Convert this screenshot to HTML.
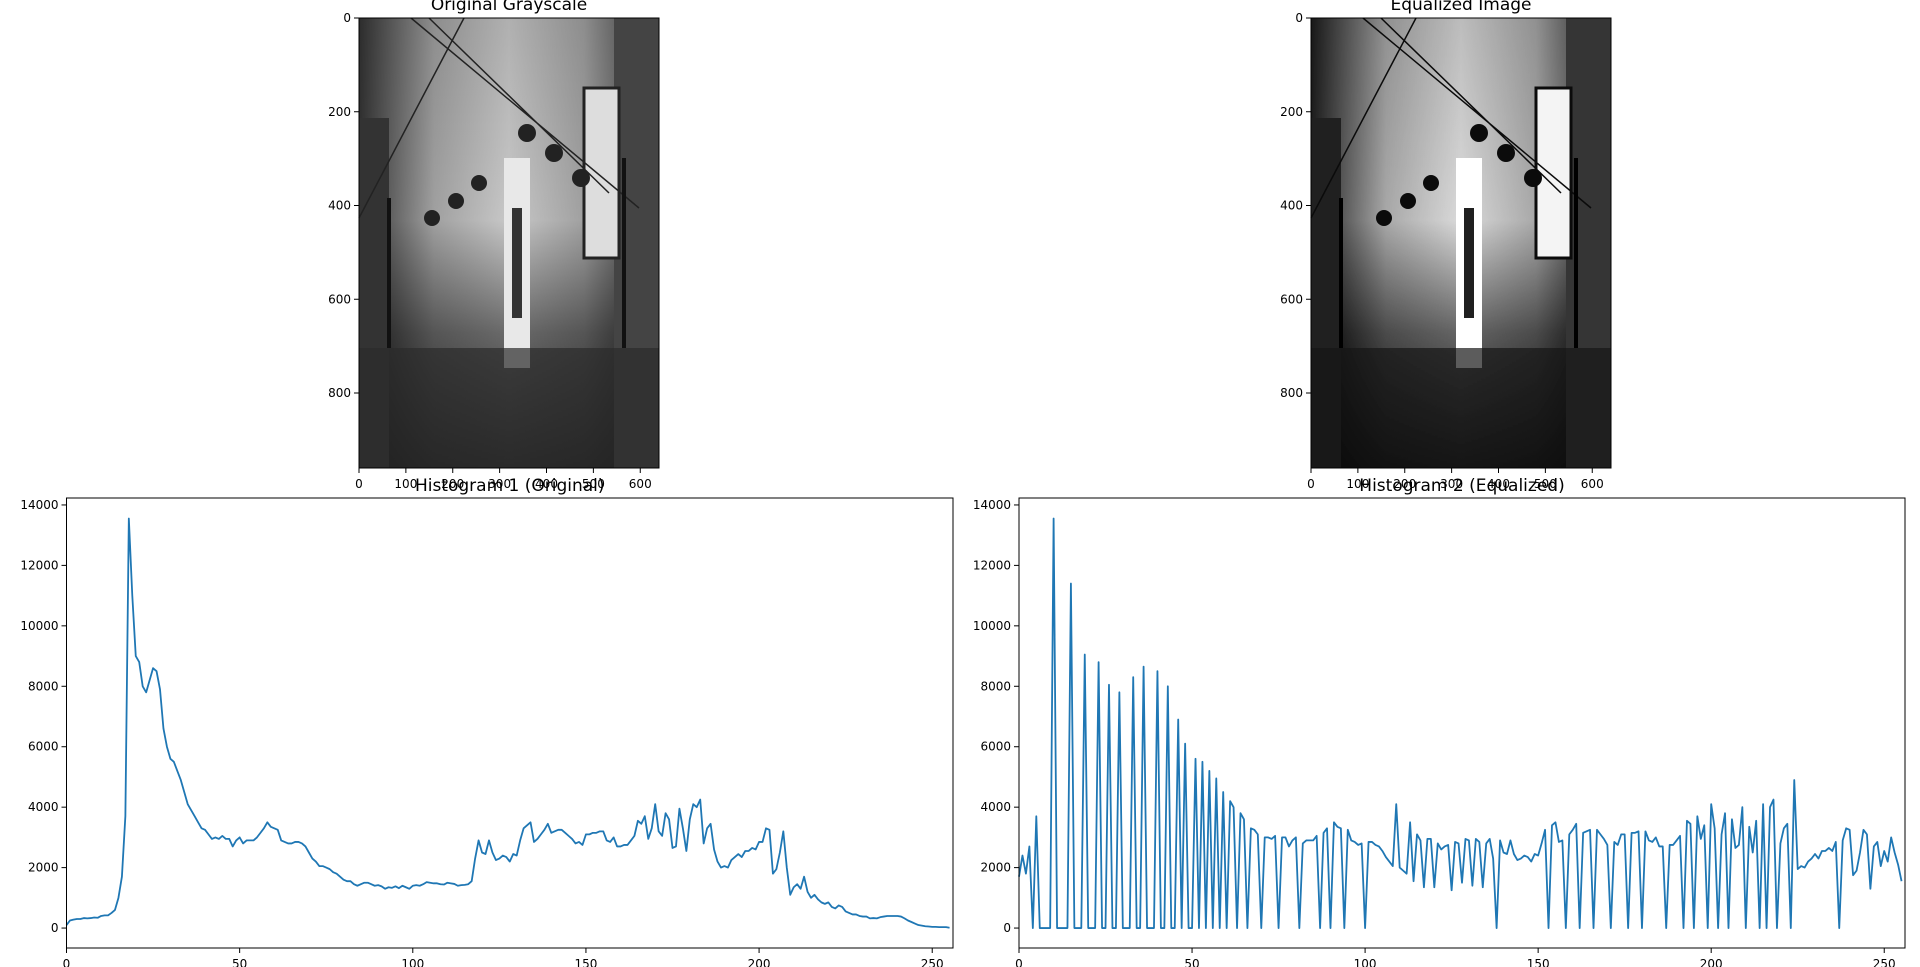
<!DOCTYPE html>
<html><head><meta charset="utf-8"><style>
html,body{margin:0;padding:0;background:#fff;}
svg{display:block;font-family:"DejaVu Sans","Liberation Sans",sans-serif;}
</style></head><body>
<svg id="fig" width="1920" height="967" viewBox="0 0 1920 967" xmlns="http://www.w3.org/2000/svg">
<defs>
<linearGradient id="sky" x1="0" y1="0" x2="0" y2="1">
<stop offset="0" stop-color="#b0b0b0"/><stop offset="0.45" stop-color="#c8c8c8"/><stop offset="0.7" stop-color="#6a6a6a"/><stop offset="1" stop-color="#2a2a2a"/>
</linearGradient>
<linearGradient id="side" x1="0" y1="0" x2="1" y2="0">
<stop offset="0" stop-color="#000" stop-opacity="0.75"/><stop offset="0.25" stop-color="#000" stop-opacity="0.2"/><stop offset="0.5" stop-color="#000" stop-opacity="0"/><stop offset="0.75" stop-color="#000" stop-opacity="0.2"/><stop offset="1" stop-color="#000" stop-opacity="0.75"/>
</linearGradient>
<g id="photo">
<rect x="0" y="0" width="300" height="450" fill="url(#sky)"/>
<rect x="0" y="0" width="300" height="450" fill="url(#side)"/>
<rect x="0" y="100" width="30" height="350" fill="#333"/>
<rect x="255" y="0" width="45" height="450" fill="#444"/>
<rect x="225" y="70" width="35" height="170" fill="#ddd" stroke="#222" stroke-width="3"/>
<rect x="145" y="140" width="26" height="210" fill="#e8e8e8"/>
<rect x="153" y="190" width="10" height="110" fill="#333"/>
<rect x="0" y="330" width="300" height="120" fill="#2b2b2b" opacity="0.7"/>
<path d="M52 0 L280 190 M70 0 L250 175 M0 200 L105 0" stroke="#222" stroke-width="1.5" fill="none"/>
<path d="M30 180 L30 330 M265 140 L265 330" stroke="#111" stroke-width="4"/>
<circle cx="73" cy="200" r="8" fill="#222"/><circle cx="97" cy="183" r="8" fill="#222"/><circle cx="120" cy="165" r="8" fill="#222"/>
<circle cx="168" cy="115" r="9" fill="#222"/><circle cx="195" cy="135" r="9" fill="#222"/><circle cx="222" cy="160" r="9" fill="#222"/>
</g>
</defs>
<text x="509" y="10" text-anchor="middle" font-size="17">Original Grayscale</text>
<g><use href="#photo" x="359" y="18"/></g>
<rect x="359" y="18" width="300" height="450" fill="none" stroke="#000" stroke-width="1"/>
<text x="1461" y="10" text-anchor="middle" font-size="17">Equalized Image</text>
<g><use href="#photo" x="1311" y="18" style="filter:contrast(1.25)"/></g>
<rect x="1311" y="18" width="300" height="450" fill="none" stroke="#000" stroke-width="1"/>
<g id="imgaxes"></g>
<g id="h1"></g>
<g id="h2"></g>
</svg>
<script>
const imgXTicks=[0,100,200,300,400,500,600];
const imgYTicks=[0,200,400,600,800];
const imgW=640, imgH=960;
const histXTicks=[0,50,100,150,200,250];
const histYTicks=[0,2000,4000,6000,8000,10000,12000,14000];
const hist1=[100,250,280,300,300,330,320,330,350,340,400,420,420,500,600,1000,1700,3700,13550,11000,9000,8800,8000,7800,8200,8600,8500,7900,6600,6000,5600,5500,5200,4900,4500,4100,3900,3700,3500,3300,3250,3100,2950,3000,2950,3050,2950,2950,2700,2900,3000,2800,2900,2900,2900,3000,3150,3300,3500,3350,3300,3250,2900,2850,2800,2800,2850,2850,2800,2700,2500,2300,2200,2050,2050,2000,1950,1850,1800,1700,1600,1550,1550,1450,1400,1450,1500,1500,1450,1400,1420,1380,1300,1350,1330,1380,1320,1400,1350,1300,1400,1420,1400,1450,1520,1500,1480,1480,1450,1440,1500,1480,1460,1400,1420,1430,1450,1550,2300,2900,2500,2450,2900,2500,2250,2300,2400,2350,2200,2450,2400,2900,3300,3400,3500,2850,2950,3100,3250,3450,3150,3200,3250,3250,3150,3050,2950,2800,2850,2750,3100,3100,3150,3150,3200,3200,2900,2850,3000,2700,2700,2750,2750,2900,3050,3550,3450,3700,2950,3300,4100,3200,3050,3800,3600,2650,2700,3950,3300,2550,3600,4100,4000,4250,2800,3300,3450,2600,2200,2000,2050,2000,2250,2350,2450,2350,2550,2550,2650,2600,2850,2850,3300,3250,1800,1950,2500,3200,2000,1100,1350,1450,1300,1700,1200,1000,1100,950,850,800,850,700,650,750,700,550,500,450,450,400,380,380,320,330,320,360,380,400,400,400,400,380,320,250,200,150,100,80,60,50,40,40,30,30,30,10];
const hist2=[1700,2400,1800,2700,0,3700,0,0,0,0,13550,0,0,0,0,11400,0,0,0,9050,0,0,0,8800,0,0,8050,0,0,7800,0,0,0,8300,0,0,8650,0,0,0,8500,0,0,8000,0,0,6900,0,6100,0,0,5600,0,5500,0,5200,0,4950,0,4500,0,4200,4000,0,3800,3600,0,3300,3250,3100,0,3000,3000,2950,3050,0,3000,3000,2700,2900,3000,0,2800,2900,2900,2900,3050,0,3150,3300,0,3500,3350,3300,0,3250,2900,2850,2750,2800,0,2850,2850,2750,2700,2550,2350,2200,2050,4100,2000,1900,1800,3500,1550,3100,2900,1350,2950,2950,1350,2800,2600,2700,2750,1250,2850,2800,1500,2950,2900,1400,2950,2850,1350,2800,2950,2300,0,2900,2500,2450,2900,2450,2250,2300,2400,2350,2200,2450,2400,2800,3250,0,3400,3500,2850,2900,0,3100,3250,3450,0,3150,3200,3250,0,3250,3100,2950,2750,0,2850,2750,3100,3100,0,3150,3150,3200,0,3200,2900,2850,3000,2700,2700,0,2750,2750,2900,3050,0,3550,3450,0,3700,2950,3400,0,4100,3300,0,3100,3800,0,3600,2650,2750,4000,0,3350,2500,3550,0,4100,0,4000,4250,0,2800,3300,3450,0,4900,1950,2050,2000,2200,2300,2450,2300,2550,2550,2650,2550,2850,0,2900,3300,3250,1750,1900,2500,3250,3100,1300,2700,2850,2050,2550,2200,3000,2500,2100,1550];
const NS='http://www.w3.org/2000/svg';
function mk(parent,tag,attrs,txt){const e=document.createElementNS(NS,tag);for(const k in attrs)e.setAttribute(k,attrs[k]);if(txt!==undefined)e.textContent=txt;parent.appendChild(e);return e;}
const ia=document.getElementById('imgaxes');
[[359,'original'],[1311,'equalized']].forEach(([x0,nm])=>{
  const sx=v=>x0+v*300/imgW, sy=v=>18+v*450/imgH;
  imgXTicks.forEach(t=>{
    mk(ia,'line',{x1:sx(t),x2:sx(t),y1:468,y2:473,stroke:'#000'});
    const tx=mk(ia,'text',{x:sx(t),y:488,'text-anchor':'middle','font-size':12},t);
    
    
  });
  imgYTicks.forEach(t=>{
    mk(ia,'line',{x1:x0-5,x2:x0,y1:sy(t),y2:sy(t),stroke:'#000'});
    const tx=mk(ia,'text',{x:x0-8,y:sy(t)+4,'text-anchor':'end','font-size':12},t);
    
    
  });
});
function drawHist(gid,left,right,data,title,nm){
  const g=document.getElementById(gid);
  const top=498,bottom=948,ymin=-660,ymax=14230;
  const sx=v=>left+(v/256)*(right-left);
  const sy=v=>bottom-(v-ymin)/(ymax-ymin)*(bottom-top);
  const t=mk(g,'text',{x:(left+right)/2,y:491,'text-anchor':'middle','font-size':17},title);
  
  
  histXTicks.forEach(v=>{
    mk(g,'line',{x1:sx(v),x2:sx(v),y1:bottom,y2:bottom+5,stroke:'#000'});
    const tx=mk(g,'text',{x:sx(v),y:bottom+20,'text-anchor':'middle','font-size':12},v);
    
    
  });
  histYTicks.forEach(v=>{
    mk(g,'line',{x1:left-5,x2:left,y1:sy(v),y2:sy(v),stroke:'#000'});
    const tx=mk(g,'text',{x:left-8,y:sy(v)+4,'text-anchor':'end','font-size':12},v);
    
    
  });
  const d=data.map((v,i)=>(i?'L':'M')+sx(i).toFixed(2)+' '+sy(v).toFixed(2)).join(' ');
  const p=mk(g,'path',{d:d,fill:'none',stroke:'#1f77b4','stroke-width':1.8,'stroke-linejoin':'round'});
  
  
  mk(g,'rect',{x:left,y:top,width:right-left,height:bottom-top,fill:'none',stroke:'#000','stroke-width':1});
}
drawHist('h1',66.5,953,hist1,'Histogram 1 (Original)','histogram-1');
drawHist('h2',1019,1905,hist2,'Histogram 2 (Equalized)','histogram-2');
</script>
</body></html>
